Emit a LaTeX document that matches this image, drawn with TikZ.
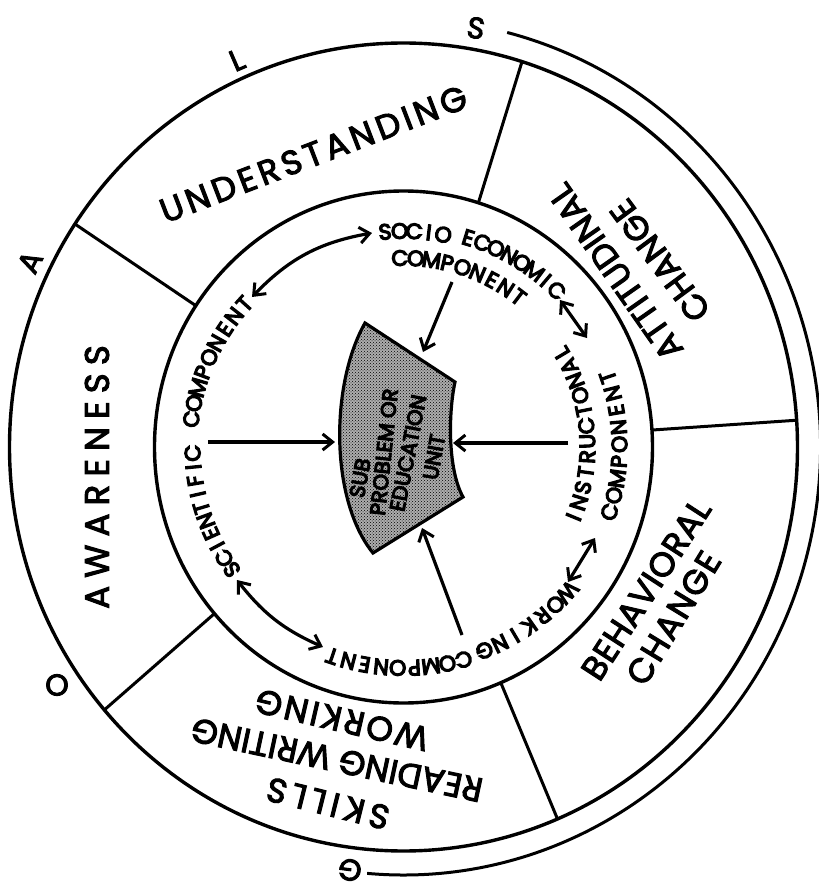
\documentclass[tikz,border=0pt]{standalone}
\usepackage{fontspec}
\setmainfont{Poppins}
\newfontfamily\outerfont[FakeBold=3]{Poppins}
\newfontfamily\heavyfont[FakeBold=6]{Poppins}
\usetikzlibrary{arrows.meta,patterns}
\newdimen\awd
% #1 name, #2 radius, #3 angle of first letter, #4 angle of last letter, #5 rotation offset, #6 letters
\newcommand{\arcword}[6]{%
  \begingroup
  \heavyfont\fontsize{22}{22}\selectfont
  \gdef\awtot{0}\gdef\awn{0}%
  \foreach \ch [count=\k] in {#6}{%
    \settowidth{\awd}{\ch}%
    \pgfmathsetmacro{\aww}{\awd}%
    \ifnum\k=1 \xdef\awfirst{\aww}\fi
    \xdef\awlast{\aww}%
    \pgfmathsetmacro{\awt}{\awtot+\aww}\xdef\awtot{\awt}%
    \xdef\awn{\k}%
  }%
  \pgfmathsetmacro{\awL}{(#2)/180*pi*abs((#4)-(#3))}%
  \pgfmathsetmacro{\awg}{(\awL-(\awtot-\awfirst/2-\awlast/2))/max(\awn-1,1)}%
  \pgfmathsetmacro{\awsgn}{((#4)>=(#3))?1:-1}%
  \gdef\awcum{0}%
  \foreach \ch [count=\k from 0] in {#6}{%
    \settowidth{\awd}{\ch}\pgfmathsetmacro{\aww}{\awd}%
    \pgfmathsetmacro{\aws}{\awcum+\aww/2-\awfirst/2+\k*\awg}%
    \pgfmathsetmacro{\ang}{(#3)+\awsgn*(\aws/(#2))*(180/pi)}%
    \pgfmathsetmacro{\rot}{\ang+(#5)}%
    \node[comp, rotate=\rot] (#1\k) at (\ang:#2pt) {\ch};
    \pgfmathsetmacro{\awc}{\awcum+\aww}\xdef\awcum{\awc}%
  }%
  \endgroup
}
\tikzset{
  ring/.style={line width=3.4pt},
  divider/.style={line width=3pt},
  big/.style={font=\outerfont\fontsize{34}{34}\selectfont, inner sep=0pt},
  goal/.style={font=\outerfont\fontsize{30}{30}\selectfont, inner sep=0pt},
  comp/.style={font=\heavyfont\fontsize{22}{22}\selectfont, inner sep=0pt},
  core/.style={font=\heavyfont\fontsize{21}{21}\selectfont, inner sep=0pt},
  tipb/.tip={Straight Barb[length=10pt,width=16pt,line width=3pt]},
  feed/.style={line width=3.2pt, -tipb},
  link/.style={line width=3.2pt, tipb-tipb},
}
\begin{document}
\begin{tikzpicture}[x=1pt,y=1pt]
\useasboundingbox (-403.5,-437) rectangle (415.5,447);
% rings
\draw[ring] (0,0) ellipse [x radius=394pt, y radius=404pt];
\draw[ring] (0,0) ellipse [x radius=249pt, y radius=256pt];
\draw[line width=3pt] (75.6:417pt and 428pt) arc[start angle=75.6, end angle=-95, x radius=417pt, y radius=428pt];
% dividers
\foreach \t in {146.5,72.5,3.8,-67,220.6}
  \draw[divider] (\t:249pt and 256pt) -- (\t:394pt and 404pt);
% GOALS letters
\node[goal, rotate=-9.8] (gS) at (72.5,419) {S};
\node[goal, rotate=23.3] (gL) at (-166.5,387) {L};
\node[goal, rotate=63.7] (gA) at (-373.5,185) {A};
\node[goal] (gO) at (-346.5,-238) {O};
\node[goal, rotate=172.7] (gG) at (-53.5,-423) {G};
% outer ring labels
\node[big, rotate=21] (und) at (-90,293) {\addfontfeatures{LetterSpace=12}UNDERSTANDING};
\node[big, rotate=90] (awa) at (-306.5,-30) {\addfontfeatures{LetterSpace=24}AWARENESS};
\node[big, rotate=125] (att) at (212,175) {\addfontfeatures{LetterSpace=1}ATTITUDINAL};
\node[big, rotate=126.5] (attc) at (256.5,186.5) {\addfontfeatures{LetterSpace=1}CHANGE};
\node[big, rotate=57] (beh) at (242.5,-142.5) {\addfontfeatures{LetterSpace=2}BEHAVIORAL};
\node[big, rotate=58.6] (behc) at (270,-171) {\addfontfeatures{LetterSpace=5}CHANGE};
\node[big, rotate=167] (skw) at (-61.5,-273) {\addfontfeatures{LetterSpace=8}WORKING};
\node[big, rotate=168] (skr) at (-66.5,-313) {\addfontfeatures{LetterSpace=1}READING WRITING};
\node[big, rotate=166] (sks) at (-75.5,-356.5) {\addfontfeatures{LetterSpace=16}SKILLS};
% component labels
\arcword{soc}{216}{94.9}{79.4}{-90}{S,O,C,I,O}
\arcword{eco}{219}{72.8}{45.6}{-90}{E,C,O,N,O,M,I,C}
\arcword{sec}{189}{91.1}{52.5}{-90}{C,O,M,P,O,N,E,N,T}
\arcword{sci}{211}{215.5}{181.7}{-90}{S,C,I,E,N,T,I,F,I,C}
\arcword{scc}{214}{172.5}{138}{-90}{C,O,M,P,O,N,E,N,T}
\arcword{wrk}{219}{-41.6}{-68.3}{-90}{W,O,R,K,I,N,G}
\arcword{wkc}{221}{-74.2}{-108.8}{-90}{C,O,M,P,O,N,E,N,T}
\arcword{ins}{184}{-22.4}{30.8}{90}{I,N,S,T,R,U,C,T,O,N,A,L}
\arcword{inc}{216}{-17.5}{18.9}{90}{C,O,M,P,O,N,E,N,T}
% core shape
\coordinate (TL) at (-38.5,124);
\coordinate (TR) at (51.5,65);
\coordinate (BR) at (59.5,-50);
\coordinate (BL) at (-30.5,-106);
\draw[line width=3.2pt, preaction={fill=black!32}, pattern=crosshatch dots, pattern color=black]
  (TL) .. controls (-73.5,62) and (-73.5,-53) .. (BL) -- (BR)
  .. controls (44.5,-23) and (44.5,32) .. (TR) -- cycle;
\node[core, rotate=80] (sub) at (-43.5,-31) {SUB};
\node[core, rotate=84] (prob) at (-19.5,-5) {PROBLEM OR};
\node[core, rotate=79] (edu) at (4.5,-6) {EDUCATION};
\node[core, rotate=80] (unit) at (30.5,-10) {UNIT};
% arrow ends
\coordinate (seFoot) at (48.5,165);  \coordinate (coreTop) at (19.5,95);
\coordinate (scFoot) at (-195.5,5);  \coordinate (coreLeft) at (-68.5,5);
\coordinate (inFoot) at (164.5,4);   \coordinate (coreRight) at (49.5,4);
\coordinate (wkFoot) at (58.5,-188); \coordinate (coreBottom) at (18.5,-81);
\coordinate (a1) at (-31.5,214);  \coordinate (a2) at (-151.5,150);
\coordinate (b1) at (156.5,147);  \coordinate (b2) at (183.5,109);
\coordinate (c1) at (191.5,-91);  \coordinate (c2) at (164.5,-135);
\coordinate (d1) at (-166.5,-133); \coordinate (d2) at (-80.5,-200);
\draw[feed] (seFoot) -- (coreTop);
\draw[feed] (scFoot) -- (coreLeft);
\draw[feed] (inFoot) -- (coreRight);
\draw[feed] (wkFoot) -- (coreBottom);
\draw[link] (a1) to[bend right=18] (a2);
\draw[link] (b1) -- (b2);
\draw[link] (c1) -- (c2);
\draw[link] (d1) to[bend right=14] (d2);
\end{tikzpicture}
\end{document}
